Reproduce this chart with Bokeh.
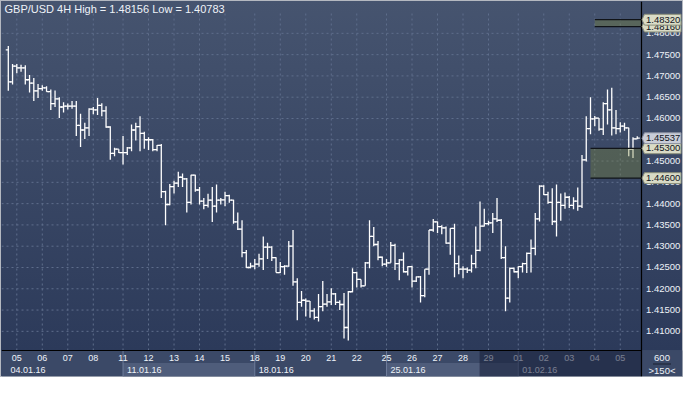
import pandas as pd
from bokeh.plotting import figure
from bokeh.models import Range1d, ColumnDataSource
from bokeh.embed import file_html
from bokeh.resources import INLINE
from bokeh.core.properties import value

# ------------------------------------------------------------------ data
symbol = "GBP/USD"
timeframe = "4H"
range_high = 1.48156
range_low = 1.40783
first_bar_time = "2016-01-04 16:00"

opens = [1.4761, 1.4686, 1.4723, 1.4719, 1.4719, 1.4691, 1.4683, 1.4665, 1.4670, 1.4672,
         1.4663, 1.4635, 1.4646, 1.4627, 1.4629, 1.4629, 1.4629, 1.4584, 1.4573, 1.4578,
         1.4622, 1.4620, 1.4631, 1.4618, 1.4580, 1.4518, 1.4528, 1.4520, 1.4520, 1.4531,
         1.4573, 1.4581, 1.4565, 1.4550, 1.4550, 1.4527, 1.4537, 1.4428, 1.4398, 1.4440,
         1.4448, 1.4462, 1.4458, 1.4403, 1.4467, 1.4432, 1.4406, 1.4396, 1.4408, 1.4394,
         1.4408, 1.4409, 1.4419, 1.4408, 1.4357, 1.4340, 1.4285, 1.4250, 1.4253, 1.4258,
         1.4270, 1.4298, 1.4298, 1.4273, 1.4238, 1.4252, 1.4253, 1.4300, 1.4216, 1.4168,
         1.4173, 1.4171, 1.4148, 1.4133, 1.4158, 1.4164, 1.4169, 1.4188, 1.4168, 1.4163,
         1.4109, 1.4193, 1.4238, 1.4222, 1.4207, 1.4261, 1.4323, 1.4304, 1.4274, 1.4258,
         1.4261, 1.4302, 1.4259, 1.4268, 1.4240, 1.4252, 1.4218, 1.4228, 1.4184, 1.4246,
         1.4338, 1.4357, 1.4346, 1.4343, 1.4307, 1.4342, 1.4259, 1.4246, 1.4246, 1.4244,
         1.4259, 1.4290, 1.4347, 1.4353, 1.4355, 1.4364, 1.4361, 1.4273, 1.4178, 1.4248,
         1.4240, 1.4252, 1.4259, 1.4283, 1.4295, 1.4364, 1.4441, 1.4421, 1.4403, 1.4358,
         1.4403, 1.4396, 1.4415, 1.4396, 1.4406, 1.4394, 1.4503, 1.4576, 1.4599, 1.4601,
         1.4575, 1.4635, 1.4620, 1.4578, 1.4576, 1.4582, 1.4578, 1.4528, 1.4552]
highs = [1.4770, 1.4728, 1.4728, 1.4726, 1.4725, 1.4702, 1.4695, 1.4681, 1.4678, 1.4676,
         1.4668, 1.4666, 1.4650, 1.4638, 1.4635, 1.4641, 1.4641, 1.4611, 1.4590, 1.4624,
         1.4627, 1.4648, 1.4636, 1.4629, 1.4582, 1.4531, 1.4528, 1.4559, 1.4533, 1.4586,
         1.4590, 1.4605, 1.4569, 1.4556, 1.4552, 1.4538, 1.4540, 1.4430, 1.4446, 1.4454,
         1.4475, 1.4471, 1.4460, 1.4468, 1.4468, 1.4439, 1.4413, 1.4423, 1.4439, 1.4445,
         1.4413, 1.4428, 1.4421, 1.4409, 1.4379, 1.4361, 1.4291, 1.4261, 1.4270, 1.4282,
         1.4323, 1.4308, 1.4300, 1.4274, 1.4263, 1.4255, 1.4312, 1.4338, 1.4225, 1.4195,
         1.4177, 1.4171, 1.4154, 1.4188, 1.4218, 1.4188, 1.4201, 1.4190, 1.4173, 1.4190,
         1.4195, 1.4248, 1.4240, 1.4222, 1.4263, 1.4361, 1.4345, 1.4312, 1.4276, 1.4270,
         1.4310, 1.4306, 1.4270, 1.4285, 1.4253, 1.4254, 1.4229, 1.4230, 1.4246, 1.4338,
         1.4364, 1.4358, 1.4349, 1.4346, 1.4342, 1.4353, 1.4278, 1.4253, 1.4250, 1.4280,
         1.4346, 1.4405, 1.4388, 1.4360, 1.4378, 1.4413, 1.4364, 1.4300, 1.4250, 1.4250,
         1.4253, 1.4261, 1.4285, 1.4316, 1.4378, 1.4443, 1.4443, 1.4428, 1.4436, 1.4445,
         1.4424, 1.4426, 1.4418, 1.4415, 1.4438, 1.4514, 1.4605, 1.4650, 1.4606, 1.4601,
         1.4638, 1.4668, 1.4672, 1.4620, 1.4591, 1.4590, 1.4578, 1.4556, 1.4558]
lows = [1.4665, 1.4680, 1.4706, 1.4710, 1.4680, 1.4661, 1.4641, 1.4648, 1.4665, 1.4663,
        1.4620, 1.4627, 1.4601, 1.4614, 1.4621, 1.4623, 1.4559, 1.4533, 1.4552, 1.4559,
        1.4610, 1.4608, 1.4605, 1.4578, 1.4503, 1.4511, 1.4519, 1.4492, 1.4514, 1.4523,
        1.4548, 1.4523, 1.4529, 1.4526, 1.4523, 1.4523, 1.4413, 1.4349, 1.4396, 1.4424,
        1.4439, 1.4439, 1.4379, 1.4398, 1.4428, 1.4398, 1.4387, 1.4391, 1.4357, 1.4379,
        1.4398, 1.4394, 1.4402, 1.4353, 1.4338, 1.4274, 1.4249, 1.4248, 1.4246, 1.4252,
        1.4244, 1.4270, 1.4265, 1.4238, 1.4237, 1.4233, 1.4252, 1.4207, 1.4126, 1.4158,
        1.4135, 1.4132, 1.4128, 1.4123, 1.4147, 1.4158, 1.4162, 1.4162, 1.4150, 1.4083,
        1.40783, 1.4192, 1.4203, 1.4203, 1.4207, 1.4248, 1.4300, 1.4267, 1.4253, 1.4252,
        1.4261, 1.4244, 1.4220, 1.4238, 1.4231, 1.4203, 1.4216, 1.4168, 1.4180, 1.4233,
        1.4334, 1.4331, 1.4328, 1.4306, 1.4280, 1.4227, 1.4234, 1.4225, 1.4237, 1.4238,
        1.4248, 1.4288, 1.4346, 1.4349, 1.4331, 1.4357, 1.4270, 1.4147, 1.4168, 1.4238,
        1.4225, 1.4238, 1.4237, 1.4238, 1.4279, 1.4358, 1.4420, 1.4400, 1.4350, 1.4323,
        1.4360, 1.4388, 1.4390, 1.4387, 1.4383, 1.4390, 1.4499, 1.4563, 1.4582, 1.4571,
        1.4561, 1.4586, 1.4560, 1.4563, 1.4567, 1.4571, 1.4511, 1.4507, 1.4552]
closes = [1.4686, 1.4723, 1.4719, 1.4719, 1.4691, 1.4683, 1.4665, 1.4670, 1.4672, 1.4663,
          1.4635, 1.4646, 1.4627, 1.4629, 1.4629, 1.4629, 1.4584, 1.4573, 1.4578, 1.4622,
          1.4620, 1.4631, 1.4618, 1.4580, 1.4518, 1.4528, 1.4520, 1.4520, 1.4531, 1.4573,
          1.4581, 1.4565, 1.4550, 1.4550, 1.4527, 1.4537, 1.4428, 1.4398, 1.4440, 1.4448,
          1.4462, 1.4458, 1.4403, 1.4467, 1.4432, 1.4406, 1.4396, 1.4408, 1.4394, 1.4408,
          1.4409, 1.4419, 1.4408, 1.4357, 1.4340, 1.4285, 1.4250, 1.4253, 1.4258, 1.4270,
          1.4298, 1.4298, 1.4273, 1.4238, 1.4252, 1.4253, 1.4300, 1.4216, 1.4168, 1.4173,
          1.4171, 1.4148, 1.4133, 1.4158, 1.4164, 1.4169, 1.4188, 1.4168, 1.4163, 1.4109,
          1.4193, 1.4238, 1.4222, 1.4207, 1.4261, 1.4323, 1.4304, 1.4274, 1.4258, 1.4261,
          1.4302, 1.4259, 1.4268, 1.4240, 1.4252, 1.4218, 1.4228, 1.4184, 1.4246, 1.4338,
          1.4357, 1.4346, 1.4343, 1.4307, 1.4342, 1.4259, 1.4246, 1.4246, 1.4244, 1.4259,
          1.4290, 1.4347, 1.4353, 1.4355, 1.4364, 1.4361, 1.4273, 1.4178, 1.4248, 1.4240,
          1.4252, 1.4259, 1.4283, 1.4295, 1.4364, 1.4441, 1.4421, 1.4403, 1.4358, 1.4403,
          1.4396, 1.4415, 1.4396, 1.4406, 1.4394, 1.4503, 1.4576, 1.4599, 1.4601, 1.4575,
          1.4635, 1.4620, 1.4578, 1.4576, 1.4582, 1.4578, 1.4528, 1.4552, 1.45537]

zone_tops = [1.48320, 1.45300]
zone_bottoms = [1.48160, 1.44600]
zone_start_bar = [138, 137]
level_tags = [1.48160, 1.48320, 1.45300, 1.44600]
price_ticks = [1.410, 1.415, 1.420, 1.425, 1.430, 1.435, 1.440, 1.445,
               1.450, 1.455, 1.460, 1.465, 1.470, 1.475, 1.480]
bars_label = "600"
zoom_label = ">150<"
dim_from_time = "2016-01-28 16:00"

# ------------------------------------------------------------------ time index
times = []
t = pd.Timestamp(first_bar_time)
while len(times) < len(closes):
    if t.weekday() < 5 or (t.weekday() == 6 and t.hour == 20):
        times.append(t)
    t += pd.Timedelta(hours=4)
idx = list(range(len(closes)))

day_idx, day_txt = [], []
for i, tt in enumerate(times):
    if tt.weekday() < 5 and tt.hour == 0:
        day_idx.append(i)
        day_txt.append(tt.strftime("%d"))

# ------------------------------------------------------------------ layout
W, H = 683, 377
B = 1                                   # outer border
frame_w, frame_h = W - 2 * B, H - 2 * B
AXIS_PX = 41
STRIP_PX = 26
plot_px = frame_w - AXIS_PX
price_px = frame_h - STRIP_PX

x_start, x_axis = -1.6, 149.0
ppb = plot_px / (x_axis - x_start)      # px per bar
x_end = x_axis + AXIS_PX / ppb
y_top, strip_top = 1.48748, 1.40550
ppp = price_px / (y_top - strip_top)    # px per price unit
y_start = strip_top - STRIP_PX / ppp

def sy(px):   # px below strip top -> data y
    return strip_top - px / ppp

def bx(px):   # px -> bar units
    return px / ppb

def py(px):   # px -> price units
    return px / ppp

week_starts = [i for i, tt in enumerate(times) if tt.weekday() == 0 and tt.hour == 0]
first_monday = (times[0] - pd.Timedelta(days=times[0].weekday())).normalize()
week_lbl = [first_monday.strftime("%d.%m.%y")] + [times[i].strftime("%d.%m.%y") for i in week_starts]
week_left = [x_start] + week_starts
week_right = week_starts + [x_axis]
dim_from = times.index(pd.Timestamp(dim_from_time)) - 0.1

# ------------------------------------------------------------------ colours
GRAD_TOP, GRAD_BOT = "#46546f", "#2c3a5a"
STRIP_BG, BAND_BG, SEP = "#3b4967", "#4f5d7b", "#6e7c9a"
GRID = "#5f6e8c"
TXT = "#eef2f8"
BAR = "#ffffff"
ZONE = "#7f8a3a"
FONT = value("Liberation Sans")

p = figure(width=W, height=H, x_range=Range1d(x_start, x_end), y_range=Range1d(y_start, y_top),
           output_backend="svg", toolbar_location=None, tools="",
           x_axis_location=None, y_axis_location=None,
           min_border_left=B, min_border_right=B, min_border_top=B, min_border_bottom=B)
p.background_fill_alpha = 0
p.border_fill_alpha = 0
p.outline_line_color = None
p.xgrid.visible = False
p.ygrid.visible = False
p.styles = {
    "background-image": f"linear-gradient(to bottom, {GRAD_TOP} 0px, {GRAD_BOT} {B + price_px}px, {STRIP_BG} {B + price_px}px, {STRIP_BG} 100%)",
    "box-shadow": "inset 0 0 0 1px #b4b8c0",
}

# grid (dashed)
p.segment(x0=[x_start] * len(price_ticks), y0=price_ticks, x1=[x_axis] * len(price_ticks), y1=price_ticks,
          line_color=GRID, line_dash="2 3", line_width=1)
p.segment(x0=day_idx, y0=[strip_top] * len(day_idx), x1=day_idx, y1=[y_top - py(11)] * len(day_idx),
          line_color=GRID, line_dash="2 3", line_width=1)

# OHLC bars
tick = 0.6
src = ColumnDataSource(dict(x=idx, o=opens, h=highs, l=lows, c=closes,
                            xl=[i - tick for i in idx], xr=[i + tick for i in idx]))
BW = 1.3
p.segment(x0="x", y0="l", x1="x", y1="h", source=src, line_color=BAR, line_width=BW)
p.segment(x0="xl", y0="o", x1="x", y1="o", source=src, line_color=BAR, line_width=BW)
p.segment(x0="x", y0="c", x1="xr", y1="c", source=src, line_color=BAR, line_width=BW)

# zones
p.quad(left=zone_start_bar, right=[x_axis] * 2, bottom=zone_bottoms, top=zone_tops,
       fill_color=ZONE, fill_alpha=0.35, line_color=None)
p.segment(x0=zone_start_bar * 2, y0=zone_tops + zone_bottoms,
          x1=[x_axis] * 4, y1=zone_tops + zone_bottoms, line_color="#111418", line_width=1.2)

# title
p.text(x=[x_start + bx(3)], y=[y_top - py(1.5)],
       text=[f"{symbol} {timeframe} High = {range_high:.5f} Low = {range_low:.5f}"],
       text_color=TXT, text_font=FONT, text_font_size="11px",
       text_baseline="top", text_align="left")

# time strip
p.quad(left=[x_start], right=[x_axis], bottom=[y_start], top=[strip_top], fill_color=STRIP_BG, line_color=None)
alt = [k for k in range(len(week_lbl)) if k % 2 == 1]
p.quad(left=[week_left[k] for k in alt], right=[week_right[k] for k in alt],
       bottom=[y_start] * len(alt), top=[sy(12.5)] * len(alt), fill_color=BAND_BG, line_color=None)
p.segment(x0=week_starts, y0=[y_start] * len(week_starts), x1=week_starts, y1=[strip_top] * len(week_starts),
          line_color=SEP, line_width=1)
p.text(x=day_idx, y=[sy(7.5)] * len(day_idx), text=day_txt, text_color=TXT,
       text_font=FONT, text_font_size="9px", text_align="center", text_baseline="middle")
wl_x = [max(w, x_start + bx(5)) + bx(4) for w in week_left]
p.text(x=wl_x, y=[sy(19)] * len(wl_x), text=week_lbl, text_color=TXT,
       text_font=FONT, text_font_size="9px", text_align="left", text_baseline="middle")
p.quad(left=[dim_from], right=[x_axis], bottom=[y_start], top=[strip_top],
       fill_color="#161e38", fill_alpha=0.55, line_color=None)
p.segment(x0=[x_start], y0=[strip_top], x1=[x_axis], y1=[strip_top], line_color="black", line_width=1)

# corner box
p.quad(left=[x_axis], right=[x_end], bottom=[y_start], top=[strip_top], fill_color=STRIP_BG, line_color=None)
cx = x_axis + bx(AXIS_PX / 2)
p.text(x=[cx, cx], y=[sy(7.5), sy(19.5)], text=[bars_label, zoom_label], text_color=TXT,
       text_font=FONT, text_font_size="9.5px", text_align="center", text_baseline="middle")
p.segment(x0=[cx - bx(9)], y0=[sy(13.5)], x1=[cx + bx(9)], y1=[sy(13.5)], line_color="#1a2030", line_width=1)

# price axis
p.segment(x0=[x_axis], y0=[y_start], x1=[x_axis], y1=[y_top], line_color="black", line_width=1.2)
p.text(x=[x_axis + bx(4.5)] * len(price_ticks), y=price_ticks, text=[f"{v:.5f}" for v in price_ticks],
       text_color=TXT, text_font=FONT, text_font_size="9.5px", text_align="left", text_baseline="middle")

# price tags with pointer
def tag(price):
    h = py(5.4)
    xs = [x_axis + bx(0.5), x_axis + bx(3), x_axis + bx(39.5), x_axis + bx(39.5), x_axis + bx(3)]
    ys = [price, price + h, price + h, price - h, price - h]
    return xs, ys

tag_prices = level_tags + [closes[-1]]
tag_fill = ["#d9dbc6"] * len(level_tags) + ["#c9cdd8"]
tag_edge = ["#8c907c"] * len(level_tags) + ["#8a90a0"]
for pr, f, e in zip(tag_prices, tag_fill, tag_edge):
    xs, ys = tag(pr)
    p.patch(x=xs, y=ys, fill_color=f, line_color=e, line_width=1)
    p.text(x=[x_axis + bx(4.5)], y=[pr], text=[f"{pr:.5f}"], text_color="#10141c",
           text_font=FONT, text_font_size="9.5px", text_align="left", text_baseline="middle")

open("out.html", "w").write(file_html(p, INLINE))
